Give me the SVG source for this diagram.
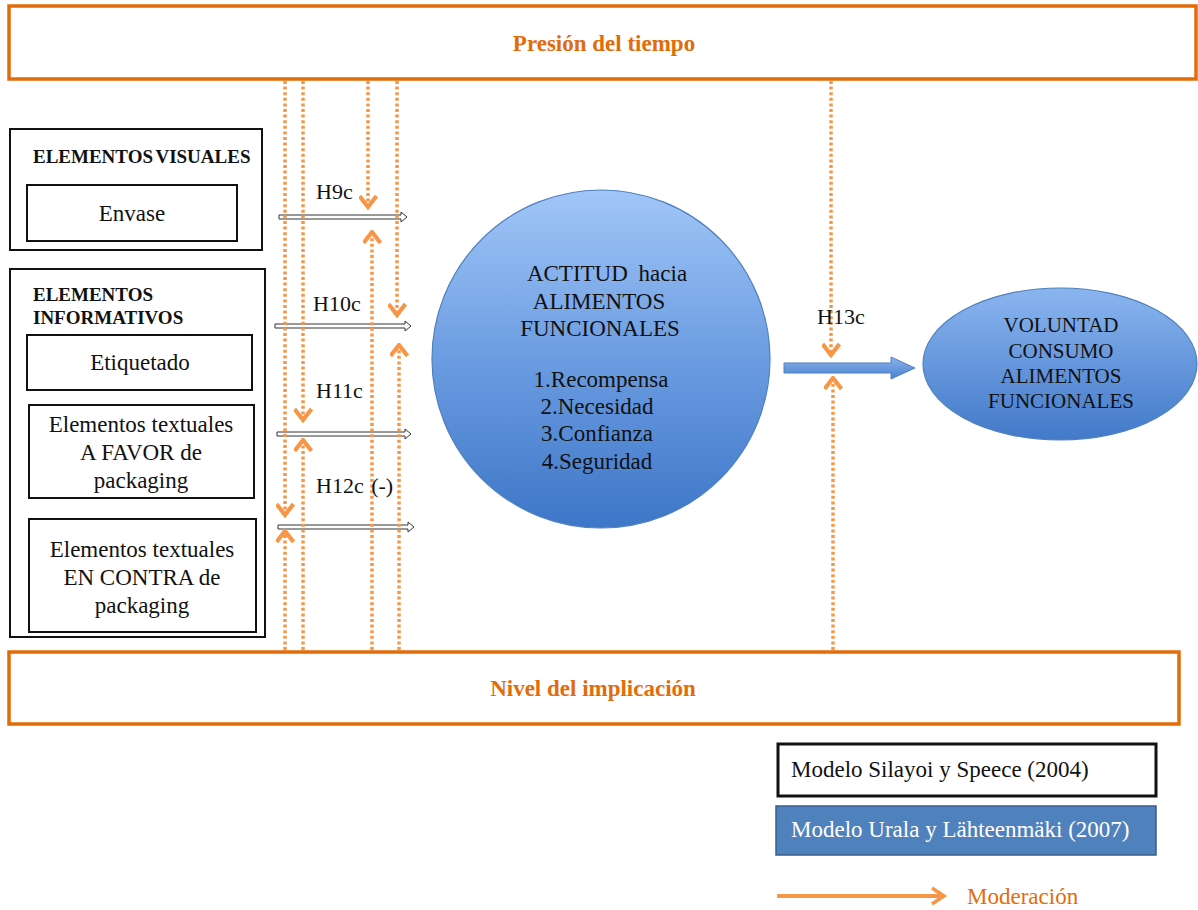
<svg xmlns="http://www.w3.org/2000/svg" width="1198" height="910" viewBox="0 0 1198 910" font-family="'Liberation Serif', 'DejaVu Serif', serif">
  <style>
    text { font-family: "Liberation Serif", "DejaVu Serif", serif; fill: #111; }
    .band { fill: #fff; stroke: #E36C0A; stroke-width: 3.5; }
    .bandtxt { fill: #E36C0A; font-weight: bold; font-size: 23px; }
    .frame { fill: #fff; stroke: #111; stroke-width: 2; }
    .head { font-weight: bold; font-size: 19px; }
    .lbl { font-size: 23px; }
    .mod { fill: none; stroke: #F79646; stroke-width: 3.5; stroke-dasharray: 3 2.6; }
    .hyp { fill: #fff; stroke: #333; stroke-width: 1; }
    .hlbl { font-size: 22px; }
    .leg { font-size: 23px; }
  </style>
  <defs>
    <marker id="chev" viewBox="0 0 15 19" refX="12.5" refY="9.5" markerWidth="15" markerHeight="19" markerUnits="userSpaceOnUse" orient="auto">
      <path d="M1.5,1 L12.5,9.5 L1.5,18" fill="none" stroke="#F79646" stroke-width="4.2"/>
    </marker>
    <marker id="chevL" viewBox="0 0 20 20" refX="16" refY="10" markerWidth="20" markerHeight="20" markerUnits="userSpaceOnUse" orient="auto">
      <path d="M4,2 L16,10 L4,18" fill="none" stroke="#F79646" stroke-width="3.5"/>
    </marker>
    <linearGradient id="gBig" x1="0" y1="0" x2="0" y2="1">
      <stop offset="0" stop-color="#A1C6F8"/>
      <stop offset="0.5" stop-color="#6B9CE1"/>
      <stop offset="1" stop-color="#3D76C8"/>
    </linearGradient>
    <linearGradient id="gSmall" x1="0" y1="0" x2="0" y2="1">
      <stop offset="0" stop-color="#8AB5EF"/>
      <stop offset="1" stop-color="#4279C9"/>
    </linearGradient>
    <linearGradient id="gArrow" x1="0" y1="0" x2="0" y2="1">
      <stop offset="0" stop-color="#8AB4EE"/>
      <stop offset="1" stop-color="#4A80CC"/>
    </linearGradient>
  </defs>

  <!-- Moderating band: time pressure -->
  <g id="presion">
    <rect class="band" x="9" y="6" width="1187" height="73"/>
    <text class="bandtxt" x="604" y="51" text-anchor="middle">Presión del tiempo</text>
  </g>

  <!-- Moderating band: involvement -->
  <g id="implicacion">
    <rect class="band" x="9" y="652" width="1170" height="72"/>
    <text class="bandtxt" x="593" y="696" text-anchor="middle">Nivel del implicación</text>
  </g>

  <!-- Visual elements -->
  <g id="visuales">
    <rect class="frame" x="10" y="129" width="252" height="121"/>
    <text class="head" x="33" y="163" word-spacing="-2">ELEMENTOS VISUALES</text>
    <rect class="frame" x="27" y="185" width="210" height="56"/>
    <text class="lbl" x="132" y="221" text-anchor="middle">Envase</text>
  </g>

  <!-- Informative elements -->
  <g id="informativos">
    <rect class="frame" x="10" y="269" width="255" height="368"/>
    <text class="head" x="33" y="301">ELEMENTOS</text>
    <text class="head" x="33" y="324">INFORMATIVOS</text>
    <g id="etiquetado">
      <rect class="frame" x="27" y="335" width="225" height="55"/>
      <text class="lbl" x="140" y="370" text-anchor="middle">Etiquetado</text>
    </g>
    <g id="favor">
      <rect class="frame" x="29" y="405" width="225" height="93"/>
      <text class="lbl" x="141" y="432" text-anchor="middle">Elementos textuales</text>
      <text class="lbl" x="141" y="460" text-anchor="middle">A FAVOR de</text>
      <text class="lbl" x="141" y="488" text-anchor="middle">packaging</text>
    </g>
    <g id="contra">
      <rect class="frame" x="29" y="519" width="227" height="113"/>
      <text class="lbl" x="142" y="557" text-anchor="middle">Elementos textuales</text>
      <text class="lbl" x="142" y="585" text-anchor="middle">EN CONTRA de</text>
      <text class="lbl" x="142" y="613" text-anchor="middle">packaging</text>
    </g>
  </g>

  <!-- Attitude -->
  <g id="actitud">
    <ellipse cx="601" cy="359" rx="169" ry="169" fill="url(#gBig)" stroke="#4F81BD" stroke-width="1.2"/>
    <text class="lbl" x="607" y="281" text-anchor="middle" word-spacing="5">ACTITUD hacia</text>
    <text class="lbl" x="599" y="309" text-anchor="middle">ALIMENTOS</text>
    <text class="lbl" x="600" y="336" text-anchor="middle">FUNCIONALES</text>
    <text class="lbl" x="601" y="387" text-anchor="middle">1.Recompensa</text>
    <text class="lbl" x="597" y="414" text-anchor="middle">2.Necesidad</text>
    <text class="lbl" x="597" y="441" text-anchor="middle">3.Confianza</text>
    <text class="lbl" x="597" y="469" text-anchor="middle">4.Seguridad</text>
  </g>

  <!-- Intention -->
  <g id="voluntad">
    <ellipse cx="1060" cy="364" rx="137" ry="76" fill="url(#gSmall)" stroke="#4F81BD" stroke-width="1.2"/>
    <text x="1061" y="332" text-anchor="middle" font-size="21">VOLUNTAD</text>
    <text x="1061" y="358" text-anchor="middle" font-size="21">CONSUMO</text>
    <text x="1061" y="383" text-anchor="middle" font-size="21">ALIMENTOS</text>
    <text x="1061" y="408" text-anchor="middle" font-size="21">FUNCIONALES</text>
  </g>

  <!-- Connectors -->
  <g id="connectors">
    <!-- hypothesis arrows into the attitude -->
    <path class="hyp" d="M279,215 L401,215 L401,212 L407,217 L401,222 L401,219 L279,219 Z"/>
    <path class="hyp" d="M275,324 L405,324 L405,321 L411,326 L405,331 L405,328 L275,328 Z"/>
    <path class="hyp" d="M277,432 L405,432 L405,429 L411,434 L405,439 L405,436 L277,436 Z"/>
    <path class="hyp" d="M278,525 L408,525 L408,522 L414,527 L408,532 L408,529 L278,529 Z"/>
    <!-- attitude to intention -->
    <path d="M784,363 L891,363 L891,357 L915,368 L891,379 L891,373 L784,373 Z" fill="url(#gArrow)" stroke="#4F81BD" stroke-width="1"/>

    <!-- moderation lines from the time-pressure band -->
    <line class="mod" x1="285" y1="81" x2="285" y2="515" marker-end="url(#chev)"/>
    <line class="mod" x1="303" y1="81" x2="303" y2="420" marker-end="url(#chev)"/>
    <line class="mod" x1="368" y1="81" x2="368" y2="207" marker-end="url(#chev)"/>
    <line class="mod" x1="397" y1="81" x2="397" y2="315" marker-end="url(#chev)"/>
    <line class="mod" x1="831" y1="81" x2="831" y2="355" marker-end="url(#chev)"/>
    <!-- moderation lines from the involvement band -->
    <line class="mod" x1="285" y1="650" x2="285" y2="531" marker-end="url(#chev)"/>
    <line class="mod" x1="303" y1="650" x2="303" y2="440" marker-end="url(#chev)"/>
    <line class="mod" x1="372" y1="650" x2="372" y2="232" marker-end="url(#chev)"/>
    <line class="mod" x1="399" y1="650" x2="399" y2="345" marker-end="url(#chev)"/>
    <line class="mod" x1="833" y1="650" x2="833" y2="378" marker-end="url(#chev)"/>

    <text class="hlbl" x="316" y="199">H9c</text>
    <text class="hlbl" x="313" y="311">H10c</text>
    <text class="hlbl" x="316" y="398">H11c</text>
    <text class="hlbl" x="316" y="493" word-spacing="2">H12c (-)</text>
    <text class="hlbl" x="817" y="324">H13c</text>
  </g>

  <!-- Legend -->
  <g id="legend">
    <rect x="778" y="744" width="378" height="52" fill="#fff" stroke="#111" stroke-width="3"/>
    <text class="leg" x="791" y="777">Modelo Silayoi y Speece (2004)</text>
    <rect x="776" y="806" width="380" height="49" fill="#4F81BD" stroke="#385D8A" stroke-width="1.5"/>
    <text class="leg" x="791" y="837" style="fill:#fff">Modelo Urala y Lähteenmäki (2007)</text>
    <line x1="777" y1="896" x2="944" y2="896" stroke="#F79646" stroke-width="4" marker-end="url(#chevL)"/>
    <text class="leg" x="967" y="904" style="fill:#E36C0A">Moderación</text>
  </g>
</svg>
